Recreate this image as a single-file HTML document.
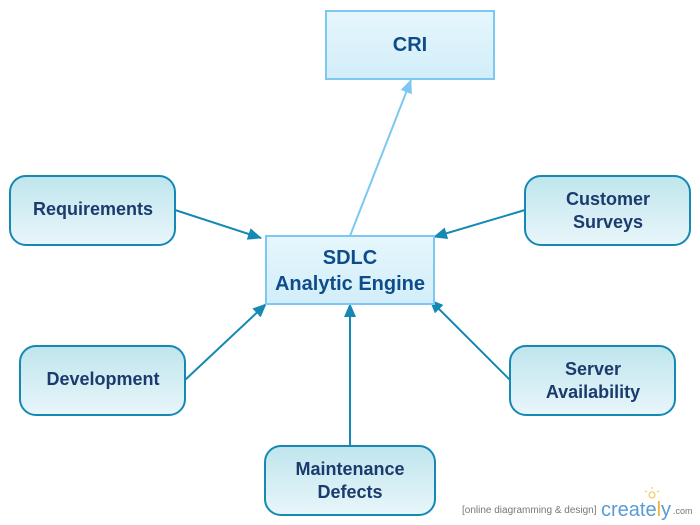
<!DOCTYPE html>
<html><head><meta charset="utf-8"><style>
html,body{margin:0;padding:0;background:#fff;width:700px;height:525px;overflow:hidden}
text{font-family:"Liberation Sans",Arial,sans-serif;font-weight:bold}
</style></head><body>
<svg width="700" height="525" viewBox="0 0 700 525" xmlns="http://www.w3.org/2000/svg">
<defs>
<linearGradient id="gr" x1="0" y1="0" x2="0" y2="1"><stop offset="0" stop-color="#bfe5ed"/><stop offset="1" stop-color="#e8f6fa"/></linearGradient>
<linearGradient id="gb" x1="0" y1="0" x2="0" y2="1"><stop offset="0" stop-color="#e6f6fc"/><stop offset="1" stop-color="#d2eefa"/></linearGradient>
<marker id="ad" markerWidth="14" markerHeight="12" refX="13" refY="6" orient="auto" markerUnits="userSpaceOnUse"><path d="M0,0 L14,6 L0,12 Z" fill="#1589b3"/></marker>
<marker id="al" markerWidth="14" markerHeight="12" refX="13" refY="6" orient="auto" markerUnits="userSpaceOnUse"><path d="M0,0 L14,6 L0,12 Z" fill="#7cc8f2"/></marker>
</defs>
<g stroke="#1589b3" stroke-width="2" fill="none">
<line x1="175" y1="210" x2="261" y2="238" marker-end="url(#ad)"/>
<line x1="525" y1="210" x2="434" y2="237" marker-end="url(#ad)"/>
<line x1="185" y1="380" x2="266" y2="304" marker-end="url(#ad)"/>
<line x1="510" y1="380" x2="430" y2="300" marker-end="url(#ad)"/>
<line x1="350" y1="446" x2="350" y2="304" marker-end="url(#ad)"/>
</g>
<line x1="350" y1="236" x2="411" y2="80" stroke="#7cc8f2" stroke-width="2" marker-end="url(#al)"/>
<g stroke="#7cc8f2" stroke-width="2" fill="url(#gb)">
<rect x="326" y="11" width="168" height="68"/>
<rect x="266" y="236" width="168" height="68"/>
</g>
<g stroke="#1589b3" stroke-width="2" fill="url(#gr)">
<rect x="10" y="176" width="165" height="69" rx="16"/>
<rect x="525" y="176" width="165" height="69" rx="16"/>
<rect x="20" y="346" width="165" height="69" rx="16"/>
<rect x="510" y="346" width="165" height="69" rx="16"/>
<rect x="265" y="446" width="170" height="69" rx="16"/>
</g>
<g fill="#0e4d8a" text-anchor="middle" style="font-size:20px">
<text x="410" y="51">CRI</text>
<text x="350" y="264">SDLC</text>
<text x="350" y="290">Analytic Engine</text>
</g>
<g fill="#1b3a6e" text-anchor="middle" style="font-size:18px">
<text x="93" y="215">Requirements</text>
<text x="608" y="205">Customer</text>
<text x="608" y="228">Surveys</text>
<text x="103" y="385">Development</text>
<text x="593" y="375">Server</text>
<text x="593" y="398">Availability</text>
<text x="350" y="475">Maintenance</text>
<text x="350" y="498">Defects</text>
</g>
<text x="462" y="513" style="font-size:10px;font-weight:normal" fill="#777">[online diagramming &amp; design]</text>
<text x="601" y="516" style="font-size:20px;font-weight:normal" fill="#5b9bd5">create<tspan fill="#f5b335">l</tspan>y</text>
<text x="673" y="514" style="font-size:9px;font-weight:normal" fill="#777">.com</text>
<g stroke="#f5c040" stroke-width="1"><circle cx="652" cy="495" r="3" fill="none"/><line x1="652" y1="487" x2="652" y2="489"/><line x1="645" y1="491" x2="647" y2="492"/><line x1="659" y1="491" x2="657" y2="492"/></g>
</svg>
</body></html>
